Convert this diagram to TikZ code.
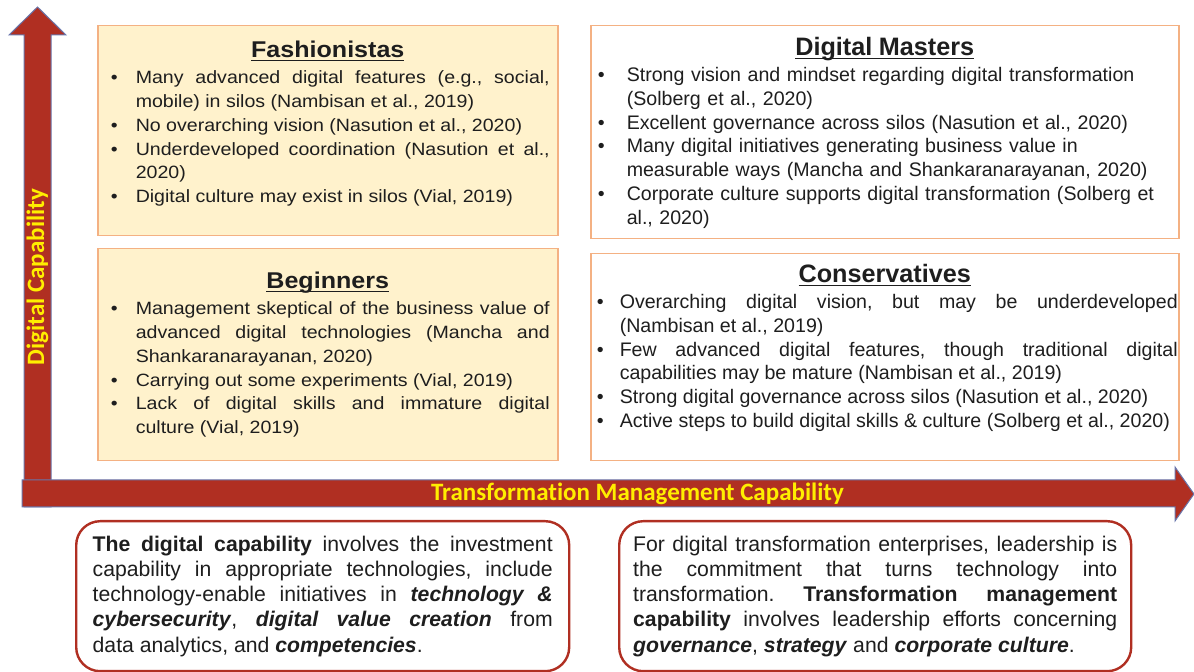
\documentclass[tikz,border=0pt]{standalone}
\usepackage{fontspec}
\setmainfont{Liberation Sans}
\newfontfamily\quadwide[FakeStretch=1.1]{Liberation Sans}
\newfontfamily\axisfont[Ligatures=NoCommon]{Carlito}
\usepackage{enumitem}
\usetikzlibrary{positioning}

\definecolor{axisred}{RGB}{176,47,34}
\definecolor{axisedge}{RGB}{105,118,172}
\definecolor{axisyellow}{RGB}{255,238,0}
\definecolor{quadfill}{RGB}{255,242,204}
\definecolor{quadedge}{RGB}{244,177,131}
\definecolor{noteedge}{RGB}{176,47,34}
\definecolor{bodytext}{RGB}{30,30,30}

\newlist{traits}{itemize}{1}
\setlist[traits]{label=\textbullet, topsep=1pt, partopsep=0pt, parsep=0pt, itemsep=0pt}
\newcommand{\quadtitle}[2][12.6]{{\centering\fontsize{#1}{15}\selectfont\bfseries
    \underline{\raisebox{0pt}[\height][0pt]{#2}}\par}}

\tikzstyle{axis} = [fill=axisred, draw=axisedge, line width=0.5pt]
\tikzstyle{axislabel} = [text=axisyellow, inner sep=0pt,
    font=\axisfont\bfseries\fontsize{12.5}{14}\selectfont]
\tikzstyle{quad} = [draw=quadedge, line width=0.75pt, rectangle, anchor=north west, inner sep=0pt]
\tikzstyle{leftq} = [anchor=north, inner sep=0pt, text=bodytext, text width=222pt,
    align=justify, font=\quadwide\fontsize{8.9}{11.9}\selectfont]
\tikzstyle{rightq} = [anchor=north, inner sep=0pt, text=bodytext,
    font=\fontsize{9.8}{11.9}\selectfont]
\tikzstyle{note} = [draw=noteedge, line width=1.2pt, rounded corners=12pt, fill=white,
    anchor=north west, minimum height=75pt, inner ysep=0pt, align=justify, text=bodytext,
    font=\fontsize{10.6}{12.6}\selectfont]

\begin{document}
\begin{tikzpicture}[x=0.5pt, y=-0.5pt]
\useasboundingbox (0,0) rectangle (1194,672);
\hyphenpenalty=10000 \exhyphenpenalty=10000 \frenchspacing

% axes
\draw[axis] (24,507) -- (24,35) -- (9,35) -- (37.5,7) -- (66,35) -- (51,35) -- (51,507) -- cycle;
\draw[axis] (22,480) -- (1175,480) -- (1175,467) -- (1194,494) -- (1175,521) -- (1175,507) -- (22,507) -- cycle;
\node[axislabel, rotate=90] (ylabel) at (37.5,277) {Digital Capability};
\node[axislabel] (xlabel) at (637.5,494) {Transformation Management Capability};

% quadrants
\node[quad, fill=quadfill, minimum width=230pt, minimum height=105pt] (fashion) at (97,25) {};
\node[quad, fill=white, minimum width=294pt, minimum height=106.5pt] (masters) at (590,25) {};
\node[quad, fill=quadfill, minimum width=230pt, minimum height=106pt] (begin) at (97,248) {};
\node[quad, fill=white, minimum width=294pt, minimum height=103.5pt] (conserv) at (590,253) {};

\node[leftq, below=8pt of fashion.north] (fashiontext) {%
\quadtitle[11.4]{Fashionistas}
\begin{traits}[leftmargin=15pt, labelsep=9pt]
\item Many advanced digital features (e.g., social, \linebreak mobile) in silos (Nambisan et al., 2019)
\item No overarching vision (Nasution et al., 2020)
\item Underdeveloped coordination (Nasution et al., \linebreak 2020)
\item Digital culture may exist in silos (Vial, 2019)
\end{traits}};

\node[rightq, text width=290pt, align=left, below=6pt of masters.north] (masterstext) {%
\quadtitle{Digital Masters}
\begin{traits}[leftmargin=16pt, labelsep=11pt]
\item Strong vision and mindset regarding digital transformation\\(Solberg et al., 2020)
\item Excellent governance across silos (Nasution et al., 2020)
\item Many digital initiatives generating business value in\\measurable ways (Mancha and Shankaranarayanan, 2020)
\item Corporate culture supports digital transformation (Solberg et\\al., 2020)
\end{traits}};

\node[leftq, below=12pt of begin.north] (begintext) {%
\quadtitle[11.4]{Beginners}
\begin{traits}[leftmargin=15pt, labelsep=9pt]
\item Management skeptical of the business value of \linebreak advanced digital technologies (Mancha and \linebreak Shankaranarayanan, 2020)
\item Carrying out some experiments (Vial, 2019)
\item Lack of digital skills and immature digital \linebreak culture (Vial, 2019)
\end{traits}};

\node[rightq, text width=293pt, align=justify, below=5.5pt of conserv.north] (conservtext) {%
\quadtitle{Conservatives}
\begin{traits}[leftmargin=14pt, labelsep=8pt]
\item Overarching digital vision, but may be underdeveloped \linebreak (Nambisan et al., 2019)
\item Few advanced digital features, though traditional digital \linebreak capabilities may be mature (Nambisan et al., 2019)
\item Strong digital governance across silos (Nasution et al., 2020)
\item Active steps to build digital skills \& culture (Solberg et al., 2020)
\end{traits}};

% notes under the axis
\node[note, text width=230pt, minimum width=246.5pt] (capnote) at (75,520) {%
\textbf{The digital capability} involves the investment \linebreak capability in appropriate technologies, include \linebreak technology-enable initiatives in \textbf{\textit{technology \&}} \linebreak \textbf{\textit{cybersecurity}}, \textbf{\textit{digital value creation}} from \linebreak data analytics, and \textbf{\textit{competencies}}.};
\node[note, text width=242pt, minimum width=256pt] (leadnote) at (618,520) {%
For digital transformation enterprises, leadership is \linebreak the commitment that turns technology into \linebreak transformation. \textbf{Transformation management} \linebreak \textbf{capability} involves leadership efforts concerning \linebreak \textbf{\textit{governance}}, \textbf{\textit{strategy}} and \textbf{\textit{corporate culture}}.};

\end{tikzpicture}
\end{document}
